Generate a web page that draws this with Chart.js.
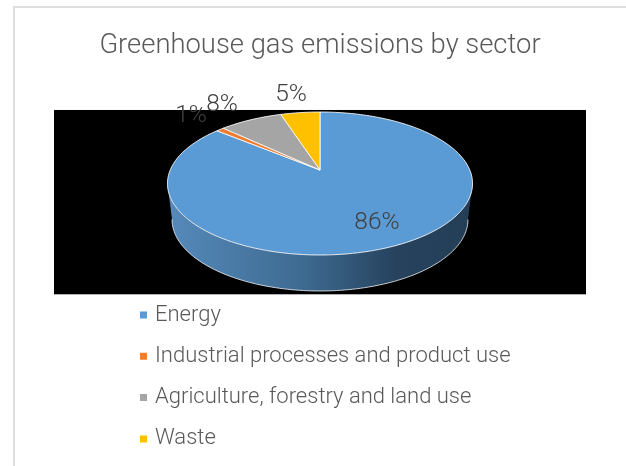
<!DOCTYPE html>
<html>
<head>
<meta charset="utf-8">
<style>html,body{margin:0;padding:0;background:#fff;overflow:hidden}canvas{display:block}</style>
<script src="https://cdn.jsdelivr.net/npm/chart.js@4"></script>
</head>
<body>
<canvas id="c" width="626" height="466"></canvas>
<script>
const categories = ['Energy', 'Industrial processes and product use', 'Agriculture, forestry and land use', 'Waste'];
const shares = [86, 1, 8, 5];
const colors = ['#5B9BD5', '#ED7D31', '#A5A5A5', '#FFC000'];

const FONT = 'Roboto';
const titleText = 'Greenhouse gas emissions by sector';

// perspective view of the pie disc
const view = { k: 0.1888, a: 149.8, b: 68.95, apexY: 170, depth: 36, shrink: 0.97 };
// where each percentage label sits
const labelSpots = [[377, 223], [191, 116], [222, 105], [291, 95]];

function project(angle, cx, dy, s) {
  const X = Math.cos(angle), Y = -Math.sin(angle), w = 1 + view.k * Y;
  return [cx + s * view.a * X / w, view.apexY + dy - view.b * Y / w];
}

const pie3d = {
  id: 'pie3d',
  beforeLayout(chart) {
    const L = chart.legend;
    if (L && !L._narrow) {
      const u = L.update;
      L.update = function (w, h, m) { return u.call(this, 360, h, m); };
      L._narrow = true;
    }
  },
  beforeDraw(chart) {
    const { ctx, chartArea: a } = chart;
    ctx.save();
    ctx.fillStyle = '#fff';
    ctx.fillRect(0, 0, chart.width, chart.height);
    ctx.strokeStyle = '#dedede';
    ctx.lineWidth = 2;
    ctx.strokeRect(14, 7, 800, 800);
    ctx.fillStyle = '#000';
    ctx.fillRect(a.left, a.top, a.right - a.left, a.bottom - a.top);
    ctx.restore();
    const L = chart.legend;
    const pad = L.options.labels.padding;
    L.left = 143 - pad;
    L.right = 560;
    L.top = 304 - pad;
  },
  beforeDatasetsDraw(chart) {
    const { ctx } = chart;
    const els = chart.getDatasetMeta(0).data;
    const cx = els[0].x;
    const a0 = Math.asin(view.k);
    const N = 120;
    ctx.save();
    // side wall
    const g = ctx.createLinearGradient(cx - view.a - 3, 0, cx + view.a + 3, 0);
    g.addColorStop(0, '#568ABB');
    g.addColorStop(0.45, '#3D6A90');
    g.addColorStop(0.75, '#26425D');
    g.addColorStop(1, '#243E57');
    ctx.beginPath();
    for (let i = 0; i <= N; i++) {
      const t = a0 + (Math.PI - 2 * a0) * i / N;
      const p = project(t, cx, 0, 1);
      i ? ctx.lineTo(p[0], p[1]) : ctx.moveTo(p[0], p[1]);
    }
    for (let i = N; i >= 0; i--) {
      const t = a0 + (Math.PI - 2 * a0) * i / N;
      const p = project(t, cx, view.depth, view.shrink);
      ctx.lineTo(p[0], p[1]);
    }
    ctx.closePath();
    ctx.fillStyle = g;
    ctx.fill();
    // lower rim highlight
    ctx.beginPath();
    for (let i = 0; i <= N; i++) {
      const t = a0 + (Math.PI - 2 * a0) * i / N;
      const p = project(t, cx, view.depth, view.shrink);
      i ? ctx.lineTo(p[0], p[1]) : ctx.moveTo(p[0], p[1]);
    }
    ctx.strokeStyle = 'rgba(255,255,255,0.75)';
    ctx.lineWidth = 1;
    ctx.stroke();
    // top face: angles come from the library's arc elements
    els.forEach((el, i) => {
      const p = el.getProps(['startAngle', 'endAngle'], true);
      ctx.beginPath();
      ctx.moveTo(cx, view.apexY);
      const n = Math.max(4, Math.ceil((p.endAngle - p.startAngle) * 40));
      for (let j = 0; j <= n; j++) {
        const q = project(p.startAngle + (p.endAngle - p.startAngle) * j / n, cx, 0, 1);
        ctx.lineTo(q[0], q[1]);
      }
      ctx.closePath();
      ctx.fillStyle = el.options.backgroundColor;
      ctx.fill();
      ctx.strokeStyle = 'rgba(255,255,255,0.85)';
      ctx.lineWidth = 1;
      ctx.lineJoin = 'round';
      ctx.stroke();
    });
    ctx.restore();
    return false;
  },
  afterDraw(chart) {
    const { ctx } = chart;
    ctx.save();
    ctx.font = '300 24.5px ' + FONT;
    ctx.fillStyle = '#404040';
    ctx.textAlign = 'center';
    ctx.textBaseline = 'middle';
    shares.forEach((v, i) => ctx.fillText(v + '%', labelSpots[i][0], labelSpots[i][1]));
    ctx.restore();
  }
};

new Chart(document.getElementById('c'), {
  type: 'pie',
  data: {
    labels: categories,
    datasets: [{ data: shares, backgroundColor: colors, borderWidth: 0 }]
  },
  options: {
    responsive: false,
    animation: false,
    layout: { padding: { left: 54, right: 40, top: 0, bottom: -3.5 } },
    plugins: {
      tooltip: { enabled: false },
      title: {
        display: true,
        text: titleText,
        fullSize: false,
        color: '#595959',
        font: { family: FONT, size: 27.4, weight: '300' },
        padding: { top: 30, bottom: 47.1 }
      },
      legend: {
        display: true,
        position: 'bottom',
        align: 'start',
        fullSize: false,
        labels: {
          usePointStyle: true,
          pointStyle: 'rect',
          boxWidth: 1,
          boxHeight: 7,
          padding: 19.3,
          color: '#595959',
          font: { family: FONT, size: 22, weight: '300' }
        }
      }
    }
  },
  plugins: [pie3d]
});
</script>
</body>
</html>
